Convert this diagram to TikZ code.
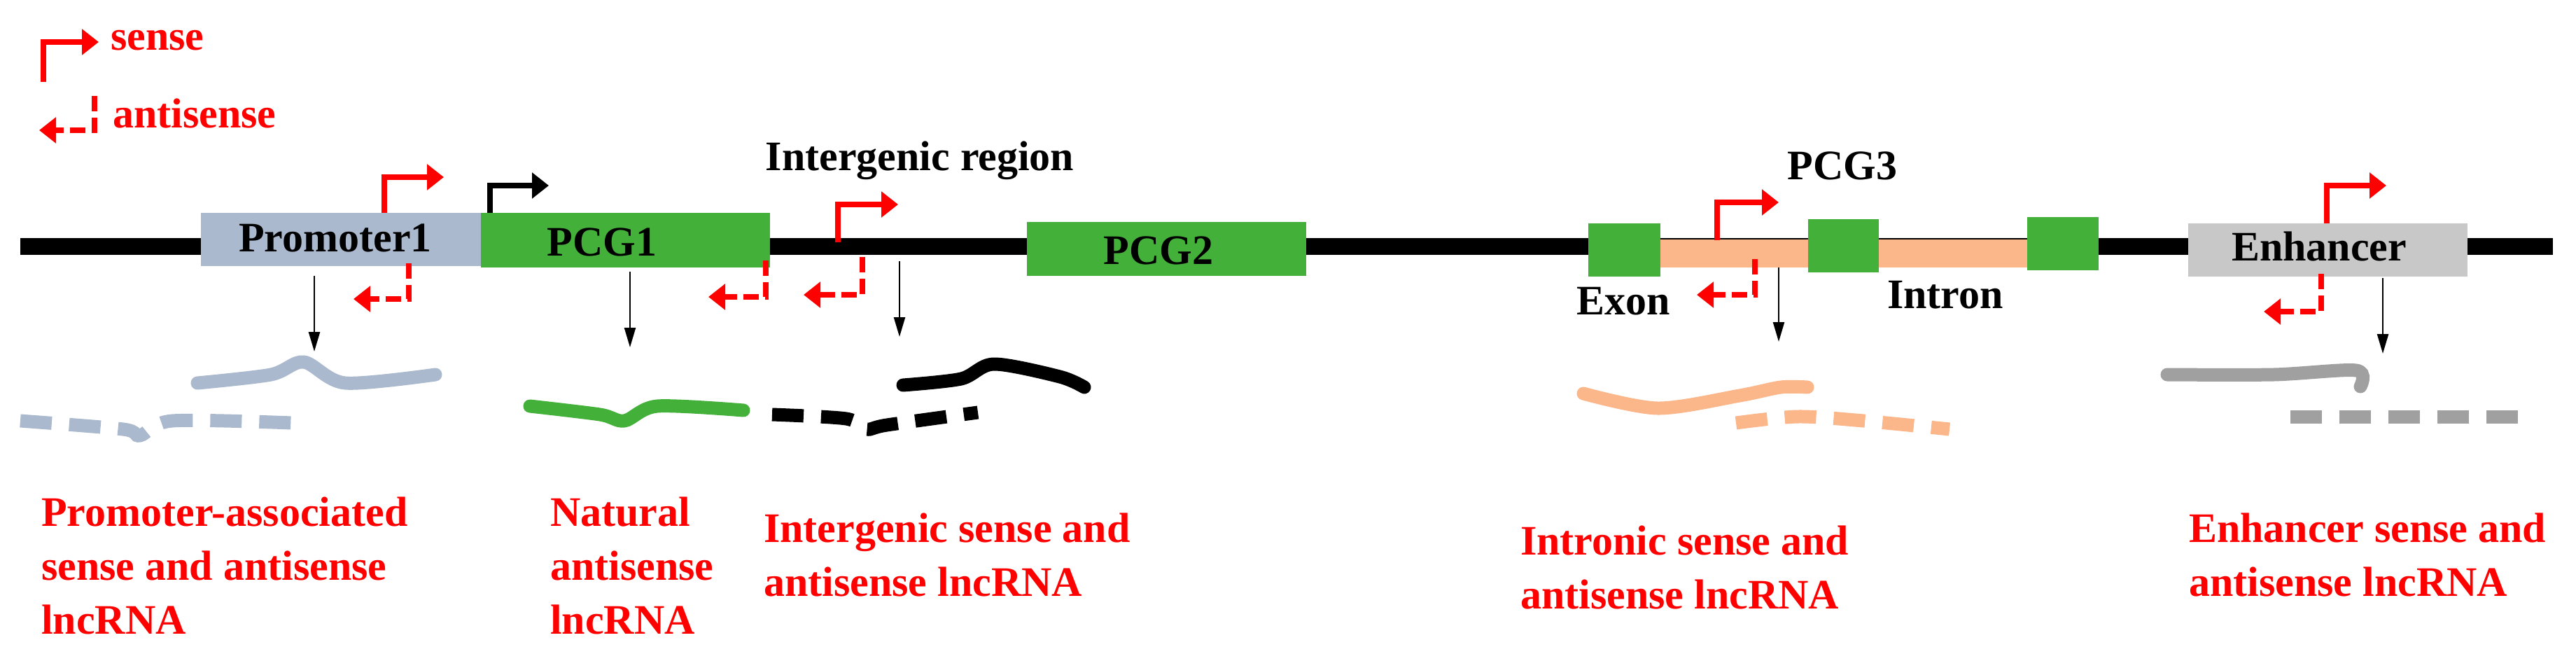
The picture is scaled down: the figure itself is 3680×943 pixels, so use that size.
\documentclass[tikz,border=0pt]{standalone}
\usepackage{fontspec}
\setmainfont{Liberation Serif}
\usetikzlibrary{arrows.meta}
\definecolor{prom}{RGB}{170,185,205}
\definecolor{gene}{RGB}{67,176,58}
\definecolor{intr}{RGB}{251,182,137}
\definecolor{enh}{RGB}{200,200,200}
\definecolor{myred}{RGB}{255,0,0}
\begin{document}
\begin{tikzpicture}[x=1pt,y=-1pt,
  box/.style={draw=none,inner sep=0,anchor=north west},
  lbl/.style={font=\fontsize{60}{77}\selectfont\bfseries,inner sep=0},
  red lbl/.style={lbl,text=myred,align=left,anchor=base west},
  sense/.style={myred,line width=8pt,-{Triangle[length=24pt,width=36pt]}},
  anti/.style={myred,line width=8pt,dash pattern=on 22pt off 9pt,-{Triangle[length=24pt,width=36pt]}},
  down/.style={black,line width=2.5pt,-{Triangle[length=28pt,width=16pt]}},
  tr/.style={line width=19pt,line cap=round},
  trd/.style={line width=19pt,dash pattern=on 45pt off 25pt}]
\useasboundingbox (0,0) rectangle (3680,943);
% backbone
\coordinate (L) at (29,352); \coordinate (R) at (3647,352);
\draw[line width=24pt] (L) -- (R);
% boxes
\fill[prom] (287,304) rectangle (687,380);
\fill[gene] (687,304) rectangle (1100,382);
\fill[gene] (1467,317) rectangle (1866,394);
\fill[intr] (2372,342) rectangle (2587,382);
\fill[intr] (2684,342) rectangle (2896,382);
\fill[gene] (2269,319) rectangle (2372,395);
\fill[gene] (2583,313) rectangle (2684,389);
\fill[gene] (2896,310) rectangle (2998,386);
\fill[enh] (3126,319) rectangle (3525,395);
% black labels
\node[lbl] (p1) at (479,340) {Promoter1};
\node[lbl] (g1) at (860,346) {PCG1};
\node[lbl] (g2) at (1655,358) {PCG2};
\node[lbl] (ir) at (1314,229) {Intergenic region};
\node[lbl] (g3) at (2632,237) {PCG3};
\node[lbl] (ex) at (2319,430) {Exon};
\node[lbl] (in) at (2779,421) {Intron};
\node[lbl] (en) at (3313,352) {Enhancer};
% legend
\coordinate (ls) at (62,117); \coordinate (la) at (135,137);
\draw[sense] (ls) |- (141,60);
\node[lbl,text=myred,anchor=west] (lst) at (158,58) {sense};
\draw[anti] (la) |- (56,186);
\node[lbl,text=myred,anchor=west] (lat) at (161,162) {antisense};
% sense arrows
\draw[sense] (549,304) |- (634,253);
\draw[black,line width=8pt,-{Triangle[length=24pt,width=36pt]}] (700,304) |- (784,265);
\draw[sense] (1197,346) |- (1283,292);
\draw[sense] (2453,343) |- (2541,289);
\draw[sense] (3324,319) |- (3409,265);
% antisense arrows
\draw[anti] (584,376) |- (505,427);
\draw[anti] (1094,372) |- (1012,424);
\draw[anti] (1232,367) |- (1148,421);
\draw[anti] (2507,370) |- (2424,421);
\draw[anti] (3316,391) |- (3234,445);
% down arrows
\draw[down] (449,394) -- (449,502);
\draw[down] (900,388) -- (900,496);
\draw[down] (1285,373) -- (1285,481);
\draw[down] (2541,382) -- (2541,488);
\draw[down] (3404,397) -- (3404,505);
% transcripts
\draw[tr,prom] plot[smooth,tension=0.5] coordinates {(282,547) (387,535) (434,517) (493,547) (622,535)};
\draw[trd,prom] plot[smooth,tension=0.5] coordinates {(29,601) (176,613) (200,622) (246,601) (417,604)};
\draw[tr,gene] plot[smooth,tension=0.5] coordinates {(757,580) (857,592) (892,601) (939,580) (1062,586)};
\draw[tr,black] plot[smooth,tension=0.5] coordinates {(1290,550) (1373,541) (1420,520) (1514,538) (1549,553)};
\draw[trd,black] plot[smooth,tension=0.5] coordinates {(1103,592) (1209,598) (1238,613) (1267,607) (1397,589)};
\draw[tr,intr] plot[smooth,tension=0.5] coordinates {(2262,562) (2368,583) (2485,565) (2544,553) (2582,553)};
\draw[trd,intr] plot[smooth,tension=0.5] coordinates {(2480,604) (2568,595) (2662,601) (2785,613)};
\draw[tr,enh!80!black] plot[smooth,tension=0.5] coordinates {(3096,535) (3248,535) (3366,529) (3372,552)};
\draw[trd,enh!80!black] (3272,595) -- (3600,595);
% red labels (base = last line)
\node[red lbl] (t1) at (59,905) {Promoter-associated\\sense and antisense\\lncRNA};
\node[red lbl] (t2) at (786,905) {Natural\\antisense\\lncRNA};
\node[red lbl] (t3) at (1091,851) {Intergenic sense and\\antisense lncRNA};
\node[red lbl] (t4) at (2172,869) {Intronic sense and\\antisense lncRNA};
\node[red lbl] (t5) at (3127,851) {Enhancer sense and\\antisense lncRNA};
\end{tikzpicture}
\end{document}
